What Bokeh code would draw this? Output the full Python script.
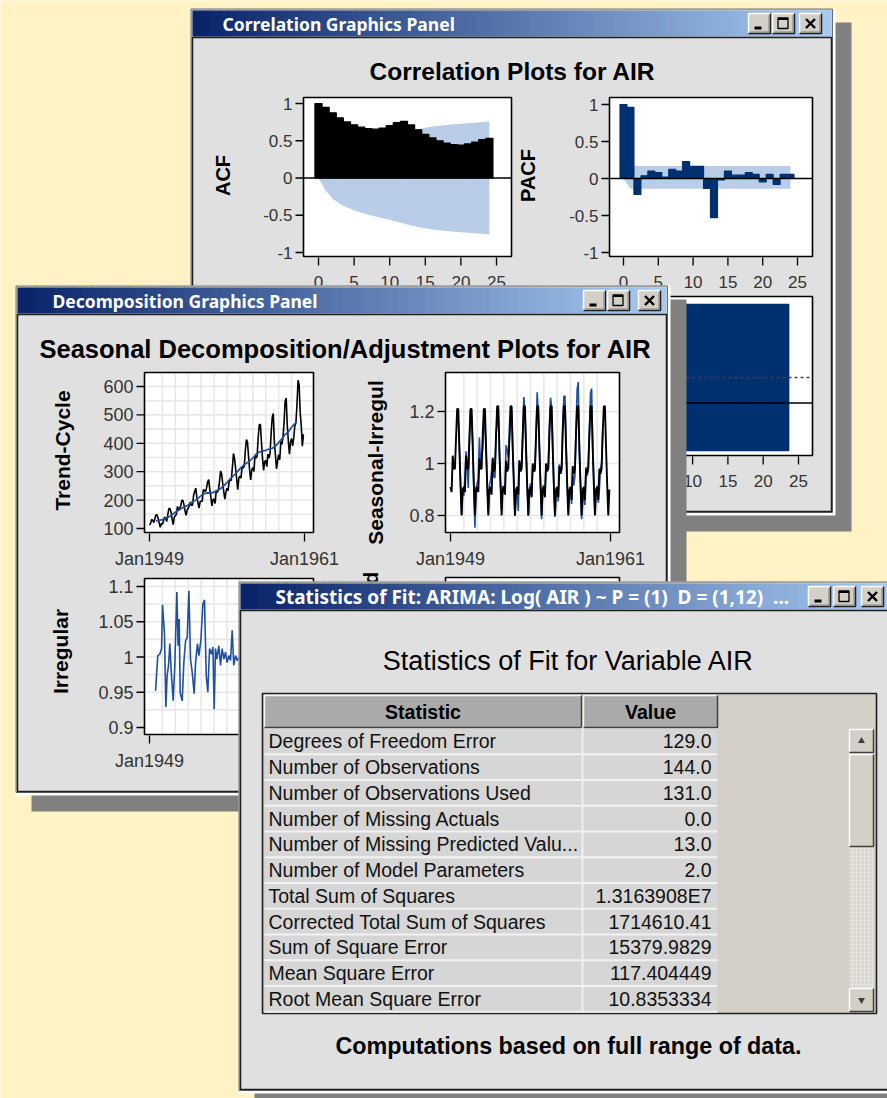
import math
from bokeh.plotting import figure
from bokeh.models import Range1d
from bokeh.embed import file_html
from bokeh.resources import INLINE
from bokeh.core.properties import value

# ---------------------------------------------------------------- data
acf_lags = list(range(25))
acf_values = [1.0, 0.948, 0.876, 0.807, 0.753, 0.714, 0.682, 0.663, 0.656, 0.671, 0.703, 0.743, 0.760,
              0.713, 0.646, 0.586, 0.538, 0.500, 0.469, 0.450, 0.442, 0.457, 0.482, 0.517, 0.532]
acf_band = [0.0, 0.167, 0.279, 0.347, 0.396, 0.434, 0.465, 0.492, 0.516, 0.539, 0.562, 0.586, 0.611,
            0.637, 0.659, 0.676, 0.690, 0.702, 0.711, 0.720, 0.728, 0.735, 0.743, 0.751, 0.760]

pacf_lags = list(range(25))
pacf_values = [1.0, 0.96, -0.215, 0.036, 0.10, 0.08, 0.02, 0.125, 0.10, 0.23, 0.165, 0.165, -0.135,
               -0.53, -0.02, 0.10, 0.045, 0.045, 0.08, 0.055, -0.045, 0.055, -0.08, 0.055, 0.055]
pacf_band_lags = [0, 1, 24]
pacf_band_upper = [0.0, 0.17, 0.17]
pacf_band_lower = [0.0, -0.14, -0.14]

wn_lags = list(range(1, 25))
wn_values = [4.0, 4.0, 4.0, 4.0, 4.0, 4.0, 4.0, 4.0, 4.0, 4.0, 4.0, 4.0,
             4.0, 4.0, 4.0, 4.0, 4.0, 4.0, 4.0, 4.0, 4.0, 4.0, 4.0, 4.0]
wn_refs = [1.301, 2.0]

air = [112, 118, 132, 129, 121, 135, 148, 148, 136, 119, 104, 118,
       115, 126, 141, 135, 125, 149, 170, 170, 158, 133, 114, 140,
       145, 150, 178, 163, 172, 178, 199, 199, 184, 162, 146, 166,
       171, 180, 193, 181, 183, 218, 230, 242, 209, 191, 172, 194,
       196, 196, 236, 235, 229, 243, 264, 272, 237, 211, 180, 201,
       204, 188, 235, 227, 234, 264, 302, 293, 259, 229, 203, 229,
       242, 233, 267, 269, 270, 315, 364, 347, 312, 274, 237, 278,
       284, 277, 317, 313, 318, 374, 413, 405, 355, 306, 271, 306,
       315, 301, 356, 348, 355, 422, 465, 467, 404, 347, 305, 336,
       340, 318, 362, 348, 363, 435, 491, 505, 404, 359, 310, 337,
       360, 342, 406, 396, 420, 472, 548, 559, 463, 407, 362, 405,
       417, 391, 419, 461, 472, 535, 622, 606, 508, 461, 390, 432]
air_months = list(range(len(air)))

trend_months = [6, 9, 12, 15, 18, 21, 24, 27, 30, 33, 36, 39, 42, 45, 48, 51, 54, 57, 60, 63, 66, 69,
                72, 75, 78, 81, 84, 87, 90, 93, 96, 99, 102, 105, 108, 111, 114, 117, 120, 123, 126,
                129, 132, 135, 137]
trend_values = [126.8, 128.6, 131.25, 136.4, 140.9, 148.4, 157.1, 164.1, 171.25, 176.8, 183.1, 191.3,
                198.0, 206.25, 215.8, 222.9, 225.3, 224.6, 228.0, 233.9, 240.5, 250.25, 261.8, 275.2,
                285.75, 297.2, 310.0, 321.75, 329.5, 337.5, 348.25, 361.4, 369.5, 372.4, 375.25, 380.0,
                381.8, 390.3, 402.5, 416.3, 430.7, 441.0, 456.3, 469.3, 475.0]

seasonal = [0.91, 0.89, 1.03, 0.98, 0.98, 1.10, 1.21, 1.21, 1.06, 0.92, 0.80, 0.90,
            0.91, 0.89, 1.03, 0.98, 0.98, 1.10, 1.21, 1.21, 1.06, 0.92, 0.80, 0.90,
            0.91, 0.89, 1.02, 0.98, 0.98, 1.11, 1.21, 1.21, 1.06, 0.92, 0.80, 0.90,
            0.91, 0.88, 1.02, 0.97, 0.98, 1.11, 1.22, 1.22, 1.06, 0.92, 0.80, 0.90,
            0.91, 0.88, 1.01, 0.97, 0.98, 1.11, 1.22, 1.22, 1.06, 0.92, 0.80, 0.90,
            0.91, 0.88, 1.01, 0.97, 0.98, 1.11, 1.22, 1.22, 1.06, 0.92, 0.80, 0.90,
            0.91, 0.87, 1.00, 0.97, 0.98, 1.11, 1.22, 1.22, 1.06, 0.92, 0.80, 0.90,
            0.91, 0.87, 1.00, 0.97, 0.98, 1.11, 1.22, 1.22, 1.06, 0.92, 0.80, 0.90,
            0.91, 0.87, 0.99, 0.96, 0.98, 1.12, 1.22, 1.22, 1.06, 0.92, 0.80, 0.90,
            0.91, 0.86, 0.99, 0.96, 0.98, 1.12, 1.22, 1.22, 1.06, 0.92, 0.80, 0.90,
            0.91, 0.86, 0.98, 0.96, 0.98, 1.12, 1.22, 1.22, 1.06, 0.92, 0.80, 0.90,
            0.91, 0.86, 0.98, 0.96, 0.98, 1.12, 1.22, 1.22, 1.06, 0.92, 0.80, 0.90]

si_months = list(range(6, 138))
si_values = [1.167, 1.162, 1.063, 0.925, 0.803, 0.905,
             0.876, 0.947, 1.047, 0.990, 0.906, 1.069, 1.207, 1.185, 1.083, 0.896, 0.753, 0.908,
             0.923, 0.941, 1.100, 0.993, 1.033, 1.054, 1.162, 1.150, 1.051, 0.916, 0.816, 0.917,
             0.934, 0.969, 1.023, 0.946, 0.946, 1.113, 1.162, 1.205, 1.027, 0.926, 0.821, 0.913,
             0.908, 0.898, 1.070, 1.054, 1.024, 1.082, 1.172, 1.208, 1.054, 0.939, 0.798, 0.886,
             0.895, 0.817, 1.013, 0.971, 0.991, 1.108, 1.256, 1.202, 1.049, 0.915, 0.799, 0.888,
             0.924, 0.875, 0.986, 0.977, 0.969, 1.116, 1.274, 1.198, 1.063, 0.922, 0.786, 0.909,
             0.916, 0.882, 0.997, 0.973, 0.981, 1.144, 1.253, 1.219, 1.060, 0.907, 0.794, 0.888,
             0.905, 0.854, 0.997, 0.963, 0.975, 1.150, 1.258, 1.260, 1.088, 0.932, 0.817, 0.898,
             0.906, 0.844, 0.957, 0.916, 0.954, 1.141, 1.286, 1.313, 1.043, 0.920, 0.786, 0.846,
             0.894, 0.840, 0.986, 0.951, 0.997, 1.108, 1.272, 1.288, 1.058, 0.923, 0.811, 0.898,
             0.914, 0.849, 0.901, 0.982, 1.000, 1.126]

irr_months = [5.6, 7.7, 9.6, 11.2, 12.1, 13.9, 15.2, 16.4, 17.7, 18.9, 20.4, 22.0, 23.5, 25.4, 26.6,
              27.6, 28.5, 30.4, 31.9, 33.5, 35.0, 36.6, 38.1, 39.7, 41.5, 42.8, 44.6, 45.9, 47.7,
              49.6, 51.1, 52.7, 54.2, 55.8, 57.6, 58.9, 60.1, 61.3, 62.6, 64.4, 66.0, 67.5, 69.1,
              70.6, 72.1, 73.7, 75.3, 76.8, 78.3, 79.9, 81.5, 84.5]
irr_values = [0.952, 1.002, 1.004, 1.012, 1.074, 1.033, 0.929, 0.974, 0.988, 1.019, 0.974, 0.938,
              0.988, 1.092, 1.016, 1.054, 0.949, 0.938, 0.992, 1.023, 1.027, 1.094, 0.997, 0.978,
              0.948, 0.992, 1.019, 1.002, 1.023, 1.075, 1.081, 0.974, 0.950, 1.012, 1.004, 1.014,
              0.926, 1.012, 0.997, 1.016, 0.988, 1.012, 0.997, 1.007, 0.992, 1.002, 0.995, 1.038,
              0.988, 1.002, 0.995, 1.003]

stat_names = ["Degrees of Freedom Error", "Number of Observations", "Number of Observations Used",
              "Number of Missing Actuals", "Number of Missing Predicted Valu...",
              "Number of Model Parameters", "Total Sum of Squares", "Corrected Total Sum of Squares",
              "Sum of Square Error", "Mean Square Error", "Root Mean Square Error"]
stat_values = ["129.0", "144.0", "131.0", "0.0", "13.0", "2.0", "1.3163908E7", "1714610.41",
               "15379.9829", "117.404449", "10.8353334"]

lag_ticks = [0, 5, 10, 15, 20, 25]
corr_ticks = [1, 0.5, 0, -0.5, -1]
corr_tick_labels = ["1", "0.5", "0", "-0.5", "-1"]
date_ticks = [0, 144]
date_tick_labels = ["Jan1949", "Jan1961"]
trend_ticks = [100, 200, 300, 400, 500, 600]
seas_ticks = [0.8, 1.0, 1.2]
seas_tick_labels = ["0.8", "1", "1.2"]
irr_ticks = [0.9, 0.95, 1.0, 1.05, 1.1]
irr_tick_labels = ["0.9", "0.95", "1", "1.05", "1.1"]

# ---------------------------------------------------------------- canvas
BG = "#fff2c4"
WPX, HPX = 887, 1098
p = figure(width=WPX, height=HPX, x_range=Range1d(0, WPX), y_range=Range1d(HPX, 0),
           output_backend="svg", toolbar_location=None, x_axis_location=None,
           y_axis_location=None, min_border=0)
p.grid.visible = False
p.outline_line_color = None
p.background_fill_color = BG
p.border_fill_color = BG

FONT = value("Liberation Sans")
TFONT = value("Noto Sans")
XR, YR = {}, {}


def panel(name, dx0, px0, dx1, px1, dy0, py0, dy1, py1):
    sx = (dx1 - dx0) / (px1 - px0)
    sy = (dy1 - dy0) / (py1 - py0)
    XR[name] = Range1d(dx0 + (0 - px0) * sx, dx0 + (WPX - px0) * sx)
    YR[name] = Range1d(dy0 + (HPX - py0) * sy, dy0 + (0 - py0) * sy)
    return (lambda px: dx0 + (px - px0) * sx), (lambda py: dy0 + (py - py0) * sy)


def rng(name):
    return dict(x_range_name=name, y_range_name=name)


def txt(x, y, s, size, color="black", bold=False, align="center", baseline="middle",
        angle=0.0, font=FONT, **kw):
    p.text(x=[x], y=[y], text=[s], text_font=font, text_font_size=size,
           text_font_style="bold" if bold else "normal", text_color=color,
           text_align=align, text_baseline=baseline, angle=angle, **kw)


def gradient_bar(x0, x1, y0, y1, c0=(10, 36, 106), c1=(166, 202, 240), n=70):
    w = (x1 - x0) / n
    lefts, rights, cols = [], [], []
    for i in range(n):
        t = i / (n - 1)
        cols.append("#%02x%02x%02x" % tuple(int(round(a + (b - a) * t)) for a, b in zip(c0, c1)))
        lefts.append(x0 + i * w)
        rights.append(min(x1, x0 + (i + 1) * w + 0.7))
    p.quad(left=lefts, right=rights, top=y0, bottom=y1, fill_color=cols, line_color=None)


def button(x0, y0, kind, w=22, h=20):
    p.quad(left=x0, right=x0 + w, top=y0, bottom=y0 + h, fill_color="#d4d0c8", line_color=None)
    p.line([x0, x0, x0 + w], [y0 + h, y0, y0], line_color="white", line_width=1.5)
    p.line([x0, x0 + w, x0 + w], [y0 + h, y0 + h, y0], line_color="#202020", line_width=1.5)
    p.line([x0 + 1.5, x0 + w - 1.5, x0 + w - 1.5], [y0 + h - 1.5, y0 + h - 1.5, y0 + 1.5],
           line_color="#808080", line_width=1)
    cx, cy = x0 + w / 2, y0 + h / 2
    if kind == "min":
        p.quad(left=cx - 5, right=cx + 2, top=cy + 3, bottom=cy + 6, fill_color="black", line_color=None)
    elif kind == "max":
        p.quad(left=cx - 5.5, right=cx + 4.5, top=cy - 5.5, bottom=cy + 5, fill_color=None,
               line_color="black", line_width=1.3)
        p.quad(left=cx - 5.5, right=cx + 4.5, top=cy - 5.5, bottom=cy - 3.5, fill_color="black",
               line_color=None)
    else:
        p.segment(x0=[cx - 4.5, cx - 4.5], y0=[cy - 4.5, cy + 4.5], x1=[cx + 4.5, cx + 4.5],
                  y1=[cy + 4.5, cy - 4.5], line_color="black", line_width=2.4)


def window(x0, y0, x1, y1, title, title_x, btn_xs, tb_h=26, tsize="17.5px"):
    p.quad(left=x0 + 16, right=x1 + 16, top=y0 + 14, bottom=y1 + 16, fill_color="#808080",
           line_color=None)
    p.quad(left=x0, right=x1, top=y0, bottom=y1, fill_color="white", line_color=None)
    p.quad(left=x0 + 0.5, right=x1 - 3, top=y0 + 0.5, bottom=y1 - 3, fill_color="#d4d0c8",
           line_color="#6a6a6a", line_width=1)
    gradient_bar(x0 + 2, x1 - 4, y0 + 2, y0 + 2 + tb_h)
    p.quad(left=x0 + 2, right=x1 - 4, top=y0 + tb_h + 3, bottom=y1 - 4, fill_color="#e0e0e0",
           line_color="#1e1e1e", line_width=1.5)
    txt(title_x, y0 + 2 + tb_h / 2, title, tsize, color="white", bold=True, align="left", font=TFONT)
    for bx, kind in zip(btn_xs, ["min", "max", "close"]):
        button(bx, y0 + 5, kind)


def frame(l, r, t, b, fill="white"):
    p.quad(left=l, right=r, top=t, bottom=b, fill_color=fill, line_color=None)


def frame_border(l, r, t, b):
    p.quad(left=l, right=r, top=t, bottom=b, fill_color=None, line_color="black", line_width=1.6)


TICKC = "#333333"


def yticks(name, fx, fy, left, ticks, labels, size):
    p.segment(x0=[fx(left - 8)] * len(ticks), y0=ticks, x1=[fx(left)] * len(ticks), y1=ticks,
              line_color="black", line_width=1.3, **rng(name))
    p.text(x=[fx(left - 11)] * len(ticks), y=ticks, text=labels, text_font=FONT, text_font_size=size,
           text_color=TICKC, text_align="right", text_baseline="middle", **rng(name))


def xticks(name, fx, fy, bottom, ticks, labels, size, label_y):
    p.segment(x0=ticks, y0=[fy(bottom + 1)] * len(ticks), x1=ticks, y1=[fy(bottom + 9)] * len(ticks),
              line_color="black", line_width=1.3, **rng(name))
    p.text(x=ticks, y=[fy(label_y)] * len(ticks), text=labels, text_font=FONT, text_font_size=size,
           text_color=TICKC, text_align="center", text_baseline="middle", **rng(name))


BAND = "#b9cde8"
NAVY = "#00306f"
BLUE = "#1f4f9f"
GRID = "#e8e8e8"

# ================================================================ window 1 : correlation
window(190, 8, 835, 515, "Correlation Graphics Panel", 222, [748, 772, 799])
txt(512, 71, "Correlation Plots for AIR", "24.5px", bold=True)

# ACF
fx, fy = panel("acf", 0, 318, 25, 496, 1, 103, -1, 252)
frame(303, 511, 97, 256)
p.varea(x=acf_lags, y1=[-b for b in acf_band], y2=acf_band, fill_color=BAND, **rng("acf"))
p.vbar(x=acf_lags, width=1.0, top=acf_values, bottom=0, fill_color="black", line_color="black",
       line_width=1.2, **rng("acf"))
p.segment(x0=[fx(303)], y0=[0], x1=[fx(511)], y1=[0], line_color="black", line_width=1.5, **rng("acf"))
frame_border(303, 511, 97, 256)
yticks("acf", fx, fy, 303, corr_ticks, corr_tick_labels, "17px")
xticks("acf", fx, fy, 256, lag_ticks, [str(t) for t in lag_ticks], "17px", 281)
txt(222, 175, "ACF", "20px", bold=True, angle=math.pi / 2)

# PACF
fx, fy = panel("pacf", 0, 623, 25, 797, 1, 104, -1, 252)
frame(609, 812, 97, 256)
p.varea(x=pacf_band_lags, y1=pacf_band_lower, y2=pacf_band_upper, fill_color=BAND, **rng("pacf"))
p.vbar(x=pacf_lags, width=1.0, top=pacf_values, bottom=0, fill_color=NAVY, line_color=NAVY,
       line_width=1.2, **rng("pacf"))
p.segment(x0=[fx(609)], y0=[0], x1=[fx(812)], y1=[0], line_color="black", line_width=1.5, **rng("pacf"))
frame_border(609, 812, 97, 256)
yticks("pacf", fx, fy, 609, corr_ticks, corr_tick_labels, "17px")
xticks("pacf", fx, fy, 256, lag_ticks, [str(t) for t in lag_ticks], "17px", 281)
txt(527, 175, "PACF", "20px", bold=True, angle=math.pi / 2)

# White noise probabilities (mostly hidden)
fx, fy = panel("wn", 0, 621.5, 25, 798, 0, 450, 4, 304)
frame(608, 812, 296, 455)
p.vbar(x=[l - 0.9 for l in wn_lags], width=1.0, top=wn_values, bottom=0, fill_color=NAVY,
       line_color=NAVY, line_width=1.5, **rng("wn"))
p.segment(x0=[fx(608)], y0=[wn_refs[1]], x1=[fx(812)], y1=[wn_refs[1]], line_color="#404040",
          line_width=1.3, line_dash="3 3", **rng("wn"))
p.segment(x0=[fx(608)], y0=[wn_refs[0]], x1=[fx(812)], y1=[wn_refs[0]], line_color="black",
          line_width=1.6, **rng("wn"))
frame_border(608, 812, 296, 455)
xticks("wn", fx, fy, 455, lag_ticks, [str(t) for t in lag_ticks], "17px", 480)

# ================================================================ window 2 : decomposition
window(15, 285, 670, 795, "Decomposition Graphics Panel", 52, [583, 607, 638])
txt(345, 348, "Seasonal Decomposition/Adjustment Plots for AIR", "25.5px", bold=True)

year_lines = [12 * k for k in range(1, 12)]

# Trend-cycle
fx, fy = panel("trend", 0, 149, 144, 304, 100, 528, 600, 386)
frame(144, 313, 372, 532)
hl = [150, 200, 250, 300, 350, 400, 450, 500, 550, 600]
p.segment(x0=[fx(145)] * len(hl), y0=hl, x1=[fx(312)] * len(hl), y1=hl, line_color=GRID,
          line_width=1.6, **rng("trend"))
p.segment(x0=year_lines, y0=[fy(373)] * 11, x1=year_lines, y1=[fy(531)] * 11, line_color=GRID,
          line_width=1.6, **rng("trend"))
p.line(air_months, air, line_color="black", line_width=1.6, **rng("trend"))
p.line(trend_months, trend_values, line_color=BLUE, line_width=1.7, **rng("trend"))
frame_border(144, 313, 372, 532)
yticks("trend", fx, fy, 144, trend_ticks, [str(t) for t in trend_ticks], "18px")
xticks("trend", fx, fy, 532, date_ticks, date_tick_labels, "18px", 558)
txt(62, 450, "Trend-Cycle", "21px", bold=True, angle=math.pi / 2)

# Seasonal-irregular
fx, fy = panel("seas", 0, 450, 144, 610, 0.8, 515, 1.2, 411)
frame(445, 619, 372, 532)
hl = [0.8, 1.0, 1.2]
p.segment(x0=[fx(446)] * 3, y0=hl, x1=[fx(618)] * 3, y1=hl, line_color=GRID, line_width=1.6,
          **rng("seas"))
p.segment(x0=year_lines, y0=[fy(373)] * 11, x1=year_lines, y1=[fy(531)] * 11, line_color=GRID,
          line_width=1.6, **rng("seas"))
p.line(si_months, si_values, line_color=BLUE, line_width=1.6, **rng("seas"))
p.line(air_months, seasonal, line_color="black", line_width=1.9, **rng("seas"))
frame_border(445, 619, 372, 532)
yticks("seas", fx, fy, 445, seas_ticks, seas_tick_labels, "18px")
xticks("seas", fx, fy, 532, date_ticks, date_tick_labels, "18px", 558)
txt(375, 462, "Seasonal-Irregul", "21px", bold=True, angle=math.pi / 2)

# Irregular
fx, fy = panel("irr", 0, 149, 144, 304, 0.9, 727, 1.1, 586)
frame(144, 313, 578, 734)
hl = [0.925, 0.95, 0.975, 1.0, 1.025, 1.05, 1.075, 1.1]
p.segment(x0=[fx(145)] * len(hl), y0=hl, x1=[fx(312)] * len(hl), y1=hl, line_color=GRID,
          line_width=1.6, **rng("irr"))
p.segment(x0=year_lines, y0=[fy(579)] * 11, x1=year_lines, y1=[fy(733)] * 11, line_color=GRID,
          line_width=1.6, **rng("irr"))
p.line(irr_months, irr_values, line_color=BLUE, line_width=1.6, **rng("irr"))
frame_border(144, 313, 578, 734)
yticks("irr", fx, fy, 144, irr_ticks, irr_tick_labels, "18px")
xticks("irr", fx, fy, 734, date_ticks[:1], date_tick_labels[:1], "18px", 760)
txt(60, 651, "Irregular", "21px", bold=True, angle=math.pi / 2)

# Seasonally adjusted (hidden behind statistics window)
frame(445, 619, 577, 737)
frame_border(445, 619, 577, 737)
txt(370, 673, "Seasonally Adjusted", "21px", bold=True, angle=math.pi / 2)

# ================================================================ window 3 : statistics of fit
window(238, 581, 894, 1093,
       "Statistics of Fit: ARIMA: Log( AIR ) ~ P = (1)\u00a0 D = (1,12)\u00a0 ...", 275,
       [808, 833, 861], tsize="19px")
txt(568, 660, "Statistics of Fit for Variable AIR", "27px")

# table
p.quad(left=262, right=876, top=693, bottom=1013, fill_color="#d4d0c8", line_color="#202020",
       line_width=1.6)
for l, r, lab in [(264, 581, "Statistic"), (583, 717, "Value")]:
    p.quad(left=l, right=r, top=695, bottom=727, fill_color="#aaaaaa", line_color=None)
    p.line([l, l, r], [727, 695, 695], line_color="#f4f4f4", line_width=1.5)
    p.line([l, r, r], [727, 727, 695], line_color="#404040", line_width=1.5)
    txt((l + r) / 2, 711, lab, "19.5px", bold=True)

row_h = 25.75
tops = [728 + i * row_h for i in range(len(stat_names))]
bots = [t + row_h for t in tops]
p.quad(left=264, right=581, top=tops, bottom=bots, fill_color="#d6d6d6", line_color=None)
p.quad(left=583, right=717, top=tops, bottom=bots, fill_color="#d6d6d6", line_color=None)
p.segment(x0=[264] * len(bots), y0=bots, x1=[717] * len(bots), y1=bots, line_color="#f2f2f2",
          line_width=2)
p.segment(x0=[582], y0=[727], x1=[582], y1=[1012], line_color="#f2f2f2", line_width=2)
mids = [t + row_h / 2 for t in tops]
p.text(x=[268] * len(mids), y=mids, text=stat_names, text_font=FONT, text_font_size="19.5px",
       text_color="#111111", text_align="left", text_baseline="middle")
p.text(x=[711] * len(mids), y=mids, text=stat_values, text_font=FONT, text_font_size="19.5px",
       text_color="#111111", text_align="right", text_baseline="middle")


def sbutton(t, b, marker):
    p.quad(left=849, right=873, top=t, bottom=b, fill_color="#d4d0c8", line_color=None)
    p.line([849, 849, 873], [b, t, t], line_color="white", line_width=1.5)
    p.line([849, 873, 873], [b, b, t], line_color="#404040", line_width=1.5)
    if marker:
        p.scatter(x=[861], y=[(t + b) / 2], marker=marker, size=7, fill_color="#404040",
                  line_color=None)


p.quad(left=849, right=873, top=753, bottom=988, fill_color="#e4e2dd", line_color=None,
       hatch_pattern="dot", hatch_color="#b4b0a8", hatch_scale=4, hatch_alpha=0.6)
sbutton(729, 752, "triangle")
sbutton(754, 846, None)
sbutton(988, 1011, "inverted_triangle")

txt(568, 1045, "Computations based on full range of data.", "23.3px", bold=True)

p.extra_x_ranges = XR
p.extra_y_ranges = YR

open("out.html", "w").write(file_html(p, INLINE))
